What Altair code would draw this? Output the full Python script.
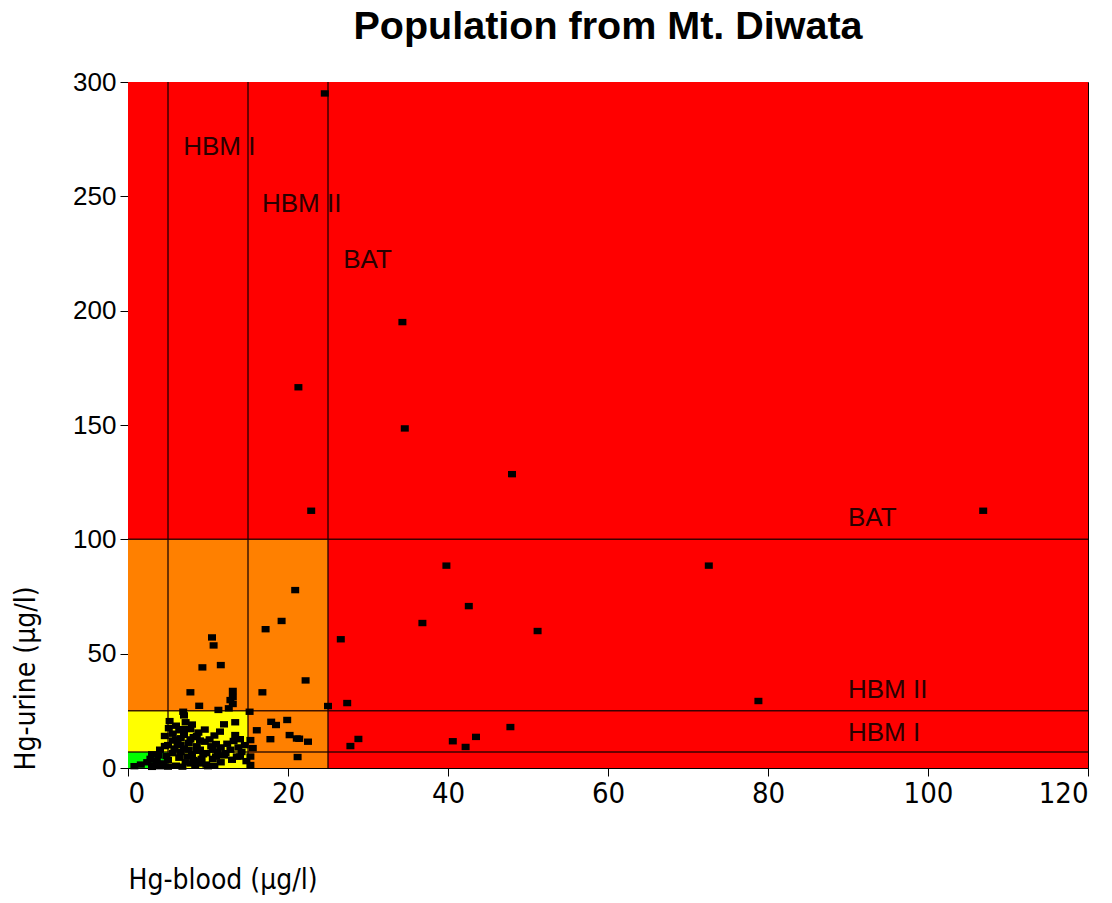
import altair as alt
import pandas as pd

# ---- data ----
zone_x0 = [0, 0, 0, 0]
zone_x1 = [120, 25, 15, 5]
zone_y0 = [0, 0, 0, 0]
zone_y1 = [300, 100, 25, 7]
zone_name = ["BAT exceeded", "HBM II-BAT", "HBM I-HBM II", "below HBM I"]
zone_color = ["#FF0000", "#FF8000", "#FFFF00", "#00FF00"]

vline_x = [5, 15, 25]
hline_y = [7, 25, 100]

# outer points
ox = [24.6, 34.3, 21.3, 34.6, 48.0, 22.9, 106.9, 39.8, 72.6, 20.9, 42.6, 36.8, 51.2, 17.2, 19.2,
      26.6, 22.2, 25.0, 27.4, 78.8, 28.8, 27.8, 40.6, 43.5, 42.2, 47.8, 21.2, 22.5, 21.4]
oy = [295, 195, 166.5, 148.5, 128.5, 112.5, 112.5, 88.5, 88.5, 77.8, 70.8, 63.4, 59.9, 60.7, 64.3,
      56.3, 38.3, 27.1, 28.4, 29.3, 12.7, 9.6, 11.7, 13.6, 9.2, 17.9, 4.8, 11.5, 12.8]
# middle points
mx = [10.5, 10.7, 9.3, 11.6, 7.8, 13.1, 12.8, 12.6, 8.9, 11.3, 6.9, 15.2, 16.8, 13.1, 13.1,
      13.4, 12.0, 11.5, 13.4, 17.9, 18.5, 19.9, 16.1, 17.8, 20.2, 21.1, 15.3, 15.6, 15.3, 15.3]
my = [57.1, 53.6, 44.0, 45.0, 33.1, 33.7, 29.7, 26.1, 27.2, 25.4, 24.6, 24.6, 33.1, 31.0, 28.0,
      20.0, 19.1, 15.9, 14.4, 20.2, 18.8, 21.0, 16.5, 12.6, 14.4, 12.9, 12.2, 8.7, 5.0, 1.3]
# dense cluster
cx = [0.8, 1.6, 2.4, 3.2, 2.8, 3.8, 4.4, 4.0, 5.0, 5.6, 5.0, 6.0, 6.4, 6.0, 7.0, 7.2, 7.6, 7.0,
      8.0, 8.4, 8.6, 8.2, 9.2, 9.0, 9.6, 9.8, 9.4, 10.4, 10.6, 10.2, 11.2, 11.6, 11.0, 12.2, 12.8,
      13.6, 14.2, 14.6, 14.8, 5.6, 6.4, 7.8, 8.8, 6.6, 7.4, 8.2, 9.0, 7.0, 7.2, 7.0, 5.2, 5.1, 4.6,
      10.0, 12.0, 13.8,
      3.0, 4.0, 5.0, 6.8, 7.8, 8.8, 10.8, 11.0, 9.8, 8.6, 7.6, 6.6, 5.8, 4.8, 3.6, 6.2, 7.8, 9.0,
      8.6, 6.6, 5.6, 10.6, 11.6, 12.4, 13.2, 14.0, 13.0, 14.0, 6.0, 8.0, 9.6, 10.8, 4.6, 3.0]
cy = [0.8, 1.5, 2.5, 1.2, 4.0, 5.5, 2.0, 8.0, 10.0, 6.5, 3.5, 1.0, 4.5, 12.5, 8.5, 2.5, 11.0, 14.5,
      6.0, 1.0, 9.5, 13.5, 4.0, 8.0, 11.5, 1.5, 6.0, 9.5, 4.0, 12.5, 7.0, 2.5, 10.5, 6.5, 8.0,
      5.0, 7.0, 10.0, 3.0, 15.0, 16.5, 17.0, 15.5, 10.0, 5.0, 3.5, 2.0, 17.0, 20.0, 23.0, 20.5, 17.4, 14.0,
      0.8, 5.5, 9.0,
      0.5, 0.8, 0.6, 0.6, 2.0, 3.0, 1.0, 5.0, 6.5, 7.5, 8.0, 7.0, 8.5, 5.2, 3.0, 10.8, 12.5, 12.0,
      14.0, 13.0, 12.0, 8.0, 9.0, 10.6, 11.8, 12.6, 3.6, 5.0, 18.5, 19.0, 16.8, 14.2, 9.6, 6.0]

label_text = ["HBM I", "HBM II", "BAT", "BAT", "HBM II", "HBM I"]
label_x = [6.9, 16.75, 26.9, 90.0, 90.0, 90.0]
label_y = [271.5, 246.6, 222.0, 109.3, 34.1, 15.3]

# ---- tables ----
zones = pd.DataFrame({"x0": zone_x0, "x1": zone_x1, "y0": zone_y0, "y1": zone_y1,
                      "zone": zone_name, "color": zone_color})
vlines = pd.DataFrame({"x": vline_x, "y0": [0] * 3, "y1": [300] * 3})
hlines = pd.DataFrame({"y": hline_y, "x0": [0] * 3, "x1": [120] * 3})
pts = pd.DataFrame({"blood": ox + mx + cx, "urine": oy + my + cy})
labels = pd.DataFrame({"t": label_text, "x": label_x, "y": label_y})

XS = alt.Scale(domain=[0, 120], nice=False, zero=False)
YS = alt.Scale(domain=[0, 300], nice=False, zero=False)

LABEL_FONT = "Liberation Sans Narrow, DejaVu Sans Condensed, Liberation Sans, sans-serif"

xaxis = alt.Axis(values=[0, 20, 40, 60, 80, 100, 120], title="Hg-blood (µg/l)", grid=False,
                 labelFont=LABEL_FONT, labelFontSize=29, labelColor="black",
                 tickSize=8, tickColor="black", domainColor="black", labelPadding=3,
                 titleFont=LABEL_FONT, titleFontSize=28, titleFontWeight="normal", titleColor="black",
                 titleX=0, titleY=112, titleAlign="left", titleBaseline="middle", titleAnchor="start")
yaxis = alt.Axis(values=[0, 50, 100, 150, 200, 250, 300], title="Hg-urine (µg/l)", grid=False,
                 labelFont="Liberation Sans", labelFontSize=26, labelColor="black",
                 tickSize=8, tickColor="black", domainColor="black", labelPadding=4,
                 titleFont=LABEL_FONT, titleFontSize=28, titleFontWeight="normal", titleColor="black",
                 titleX=-102, titleY=688, titleAngle=270, titleAlign="left", titleBaseline="middle",
                 titleAnchor="start")

bg = alt.Chart(zones).mark_rect(strokeWidth=0).encode(
    x=alt.X("x0:Q", scale=XS, axis=xaxis),
    x2="x1:Q",
    y=alt.Y("y0:Q", scale=YS, axis=yaxis),
    y2="y1:Q",
    color=alt.Color("color:N", scale=None, legend=None),
)

vr = alt.Chart(vlines).mark_rule(color="#1a0000", strokeWidth=1.5, opacity=0.85).encode(
    x="x:Q", y="y0:Q", y2="y1:Q")
hr = alt.Chart(hlines).mark_rule(color="#1a0000", strokeWidth=1.5, opacity=0.85).encode(
    y="y:Q", x="x0:Q", x2="x1:Q")

points = alt.Chart(pts).mark_point(
    shape="M-1,-0.8H1V0.8H-1Z", filled=True, color="black", opacity=1, size=64, strokeWidth=0
).encode(x="blood:Q", y="urine:Q")

texts = alt.Chart(labels).mark_text(
    font="Liberation Sans", fontSize=26, color="#2a0000", align="left", baseline="middle"
).encode(x="x:Q", y="y:Q", text="t:N")

chart = alt.layer(bg, vr, hr, points, texts).properties(
    width=960, height=686,
    title=alt.TitleParams("Population from Mt. Diwata", font="Liberation Sans", fontSize=39.5,
                          fontWeight="bold", color="black", anchor="middle",
                          baseline="alphabetic", offset=-9),
    autosize=alt.AutoSizeParams(type="none"),
    padding={"left": 120, "top": 74, "right": 16, "bottom": 127},
).configure_view(stroke="black", strokeWidth=1)

chart.save("out.html", embed_options={"renderer": "svg", "actions": False})
